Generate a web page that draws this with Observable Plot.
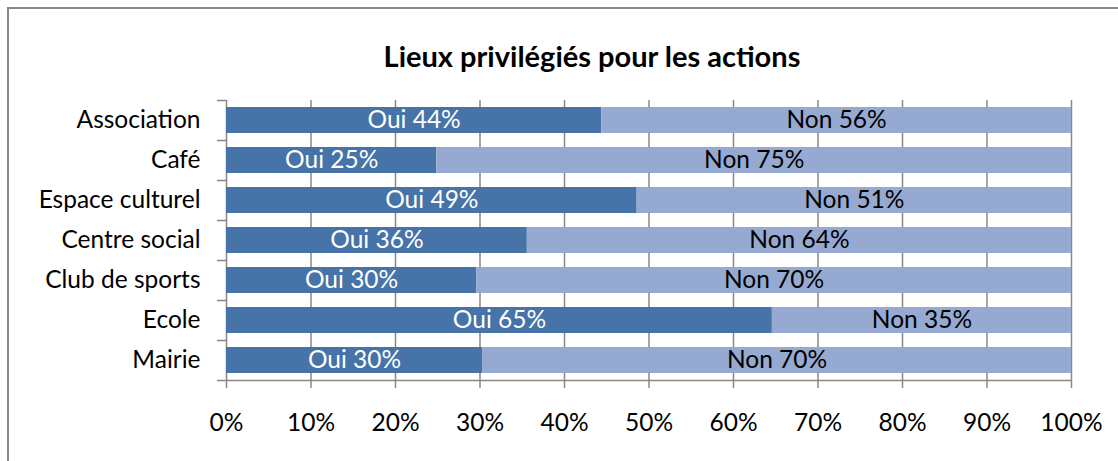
<!DOCTYPE html>
<html>
<head>
<meta charset="utf-8">
<script src="https://cdn.jsdelivr.net/npm/d3@7"></script>
<script src="https://cdn.jsdelivr.net/npm/@observablehq/plot@0.6"></script>
<style>
  html, body { margin: 0; padding: 0; background: #fff; overflow: hidden; width: 1118px; height: 461px; }
  #frame { position: absolute; left: 7px; top: 7px; width: 1300px; height: 700px; border: 2px solid #878787; box-sizing: border-box; }
  #title { position: absolute; left: 342px; width: 500px; top: 41px; text-align: center; font: bold 29px Lato, sans-serif; line-height: 29px; color: #000; white-space: nowrap; }
  #chart { position: absolute; left: 0; top: 0; }
</style>
</head>
<body>
<div id="frame"></div>
<div id="chart"></div>
<div id="title">Lieux privilégiés pour les actions</div>
<script>
const categories = ["Association", "Café", "Espace culturel", "Centre social", "Club de sports", "Ecole", "Mairie"];
const ouiValues = [44.4, 24.9, 48.6, 35.6, 29.6, 64.6, 30.3];
const answers = ["Oui", "Non"];
const xTicks = [0, 10, 20, 30, 40, 50, 60, 70, 80, 90, 100];

const colors = {Oui: "#4673A8", Non: "#95A9D1"};
const gridColor = "#888888";

const data = [];
categories.forEach((c, i) => {
  data.push({cat: c, answer: "Oui", value: ouiValues[i]});
  data.push({cat: c, answer: "Non", value: 100 - ouiValues[i]});
});

const chart = Plot.plot({
  width: 1118,
  height: 461,
  marginLeft: 226,
  marginRight: 47,
  marginTop: 100,
  marginBottom: 81,
  style: {fontFamily: "Lato, sans-serif", fontSize: "24.5px", color: "#000", background: "transparent"},
  x: {domain: [0, 100], label: null},
  y: {domain: categories, paddingInner: 0.35, paddingOuter: 0.175, label: null},
  color: {domain: answers, range: answers.map(a => colors[a])},
  marks: [
    Plot.ruleX(xTicks, {stroke: gridColor, strokeWidth: 1.5}),
    Plot.barX(data, Plot.stackX({y: "cat", x: "value", fill: "answer", order: answers})),
    Plot.text(data, Plot.stackX({
      y: "cat", x: "value", order: answers,
      text: d => `${d.answer} ${Math.round(d.value)}%`,
      fill: d => d.answer === "Oui" ? "white" : "black",
      fontSize: 24.5
    })),
    Plot.ruleY(categories, {y: d => d, dy: -20, x1: -1.07, x2: 0, stroke: gridColor, strokeWidth: 1.5}),
    Plot.ruleY([categories[categories.length - 1]], {y: d => d, dy: 20, stroke: gridColor, strokeWidth: 1.5}),
    Plot.ruleY([categories[categories.length - 1]], {y: d => d, dy: 20, x1: -1.07, x2: 0, stroke: gridColor, strokeWidth: 1.5}),
    Plot.axisX({ticks: xTicks, tickFormat: d => d + "%", tickSize: 8, tickPadding: 25, stroke: gridColor, strokeWidth: 1.5, fill: "black", fontSize: 24.5, label: null}),
    Plot.axisY({tickSize: 0, tickPadding: 26, fontSize: 24.5, fill: "black", label: null})
  ]
});
document.getElementById("chart").appendChild(chart);
</script>
</body>
</html>
